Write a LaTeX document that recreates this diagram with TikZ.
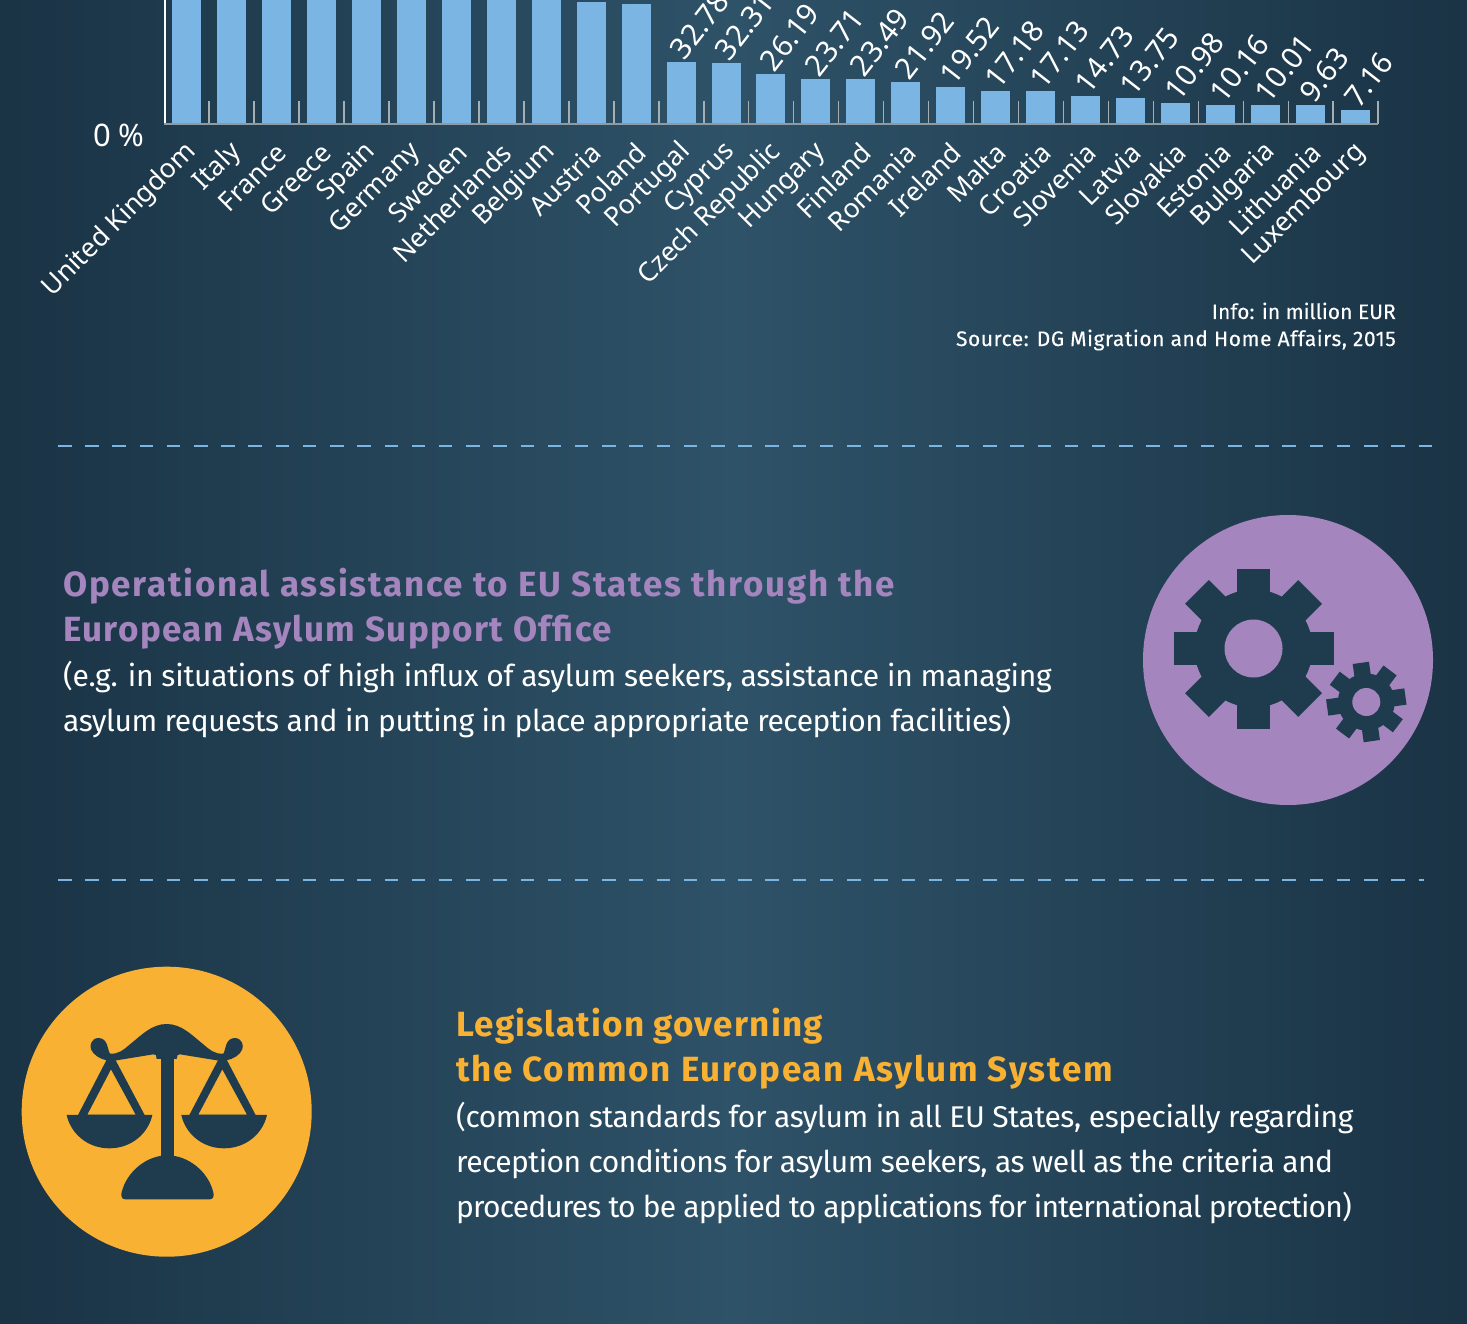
\documentclass[tikz,border=0pt]{standalone}
\usepackage{fontspec}
\setmainfont{Fira Sans}
\newfontfamily\chartfont{Noto Sans}
\newfontfamily\headA[LetterSpace=5.0]{Fira Sans}
\newfontfamily\headB[LetterSpace=4.04]{Fira Sans}
\newfontfamily\headC[LetterSpace=3.5]{Fira Sans}
\newfontfamily\infofont[FakeBold=0.25]{Fira Sans}
\newfontfamily\sourcefont[FakeBold=0.25,LetterSpace=2.5]{Fira Sans}
\newfontfamily\bodyA[LetterSpace=-0.8]{Fira Sans}
\newfontfamily\bodyB[LetterSpace=-1.5]{Fira Sans}
\newfontfamily\bodyC[LetterSpace=-1.35]{Fira Sans}
\newfontfamily\bodyD[LetterSpace=-1.8]{Fira Sans}
\newfontfamily\bodyE[LetterSpace=-2.7]{Fira Sans}
\definecolor{bgedge}{HTML}{1A3345}
\definecolor{bgmid}{HTML}{2E5268}
\definecolor{barblue}{HTML}{7AB5E3}
\definecolor{iconink}{HTML}{1F3C4F}
\definecolor{purpleC}{HTML}{A485BD}
\definecolor{yellowC}{HTML}{F8B133}
\definecolor{tickgrey}{HTML}{A3AEB5}
\definecolor{axisgrey}{HTML}{8E9BA3}
\tikzset{
  catlabel/.style={font=\chartfont\fontsize{26.6}{27}\selectfont,text=white,rotate=45,anchor=east,inner sep=0pt},
  vallabel/.style={font=\chartfont\fontsize{29.5}{29.5}\selectfont,text=white,rotate=52,anchor=west,inner sep=0pt},
  bar/.style={fill=barblue},
  sepline/.style={draw=barblue,line width=2pt,dash pattern=on 13.5pt off 13.71pt},
  headtext/.style={anchor=base west,inner sep=0pt},
  bodytext/.style={text=white,anchor=base west,inner sep=0pt},
  srctext/.style={text=white,anchor=base east,inner sep=0pt},
  ink/.style={fill=iconink}
}
\newcommand{\gearicon}[8]{% x,y,rot,root,outer,halfwidth,hole,colour of hole
  \begin{scope}[shift={(#1,#2)},rotate=#3]
    \fill[ink] (0,0) circle (#4);
    \foreach \a in {0,45,...,315}{
      \fill[ink,rotate=\a] (-#6,-#5) rectangle (#6,-#4+4);
    }
    \fill[#8] (0,0) circle (#7);
  \end{scope}
}
\begin{document}
\begin{tikzpicture}[x=1pt,y=-1pt]
\useasboundingbox (0,0) rectangle (1467,1324);
\clip (0,0) rectangle (1467,1324);
\shade[left color=bgedge,right color=bgedge,middle color=bgmid] (0,0) rectangle (1467,1324);

% chart
\foreach \i/\cname/\top in {0/United Kingdom/-5,1/Italy/-5,2/France/-5,3/Greece/-5,4/Spain/-5,5/Germany/-5,6/Sweden/-5,7/Netherlands/-5,8/Belgium/-5,9/Austria/2,10/Poland/4,11/Portugal/62,12/Cyprus/63,13/Czech Republic/74,14/Hungary/79,15/Finland/79,16/Romania/82,17/Ireland/87,18/Malta/91,19/Croatia/91,20/Slovenia/96,21/Latvia/98,22/Slovakia/103,23/Estonia/105,24/Bulgaria/105,25/Lithuania/105,26/Luxembourg/110}{
  \pgfmathsetmacro{\xl}{172+44.96*\i}
  \fill[bar] (\xl,\top) rectangle (\xl+29,124);
  \draw[tickgrey,line width=1.5pt] (\xl+37.2,101) -- (\xl+37.2,124);
  \node[catlabel] (cat\i) at (\xl+20,148) {\cname};
}
\draw[white,line width=2pt] (165,-2) -- (165,124);
\draw[axisgrey,line width=2pt] (164,124) -- (1378,124);
\node[font=\chartfont\fontsize{31}{31}\selectfont,text=white,inner sep=0pt] (zero) at (119,135) {0 \%};

\foreach \i/\val/\top in {11/32.78/62,12/32.31/63,13/26.19/74,14/23.71/79,15/23.49/79,16/21.92/82,17/19.52/87,18/17.18/91,19/17.13/91,20/14.73/96,21/13.75/98,22/10.98/103,23/10.16/105,24/10.01/105,25/9.63/105,26/7.16/110}{
  \pgfmathsetmacro{\xl}{172+44.96*\i}
  \node[vallabel] (val\i) at (\xl+10,\top-7) {\val};
}

% source
\node[srctext,font=\infofont\fontsize{21}{27}\selectfont] (info) at (1396,319) {Info: in million EUR};
\node[srctext,font=\sourcefont\fontsize{21}{27}\selectfont] (source) at (1396,346) {Source: DG Migration and Home Affairs, 2015};

% separators
\coordinate (s1a) at (58,446); \coordinate (s1b) at (1432,446);
\coordinate (s2a) at (58,880); \coordinate (s2b) at (1424,880);
\draw[sepline] (s1a) -- (s1b);
\draw[sepline] (s2a) -- (s2b);

% EASO
\node[headtext,text=purpleC,font=\headA\bfseries\fontsize{35}{45}\selectfont] (h1) at (63,596) {Operational assistance to EU States through the};
\node[headtext,text=purpleC,font=\headB\bfseries\fontsize{35}{45}\selectfont] (h2) at (63,641) {European Asylum Support Office};
\node[bodytext,font=\bodyA\fontsize{30}{45}\selectfont] (b1) at (63,686) {(e.g. in situations of high influx of asylum seekers, assistance in managing};
\node[bodytext,font=\bodyB\fontsize{30}{45}\selectfont] (b2) at (63,731) {asylum requests and in putting in place appropriate reception facilities)};
\fill[purpleC] (1288,660) circle (145);
\gearicon{1253.5}{648.5}{0}{59}{80}{16.8}{29}{purpleC}
\gearicon{1366.3}{702}{8}{28.5}{39.5}{8.2}{14}{purpleC}

% CEAS
\node[headtext,text=yellowC,font=\headC\bfseries\fontsize{35}{45}\selectfont] (h3) at (456,1036) {Legislation governing};
\node[headtext,text=yellowC,font=\headA\bfseries\fontsize{35}{45}\selectfont] (h4) at (456,1081) {the Common European Asylum System};
\node[bodytext,font=\bodyC\fontsize{30}{45}\selectfont] (b3) at (456,1127) {(common standards for asylum in all EU States, especially regarding};
\node[bodytext,font=\bodyD\fontsize{30}{45}\selectfont] (b4) at (456,1172) {reception conditions for asylum seekers, as well as the criteria and};
\node[bodytext,font=\bodyE\fontsize{30}{45}\selectfont] (b5) at (456,1217) {procedures to be applied to applications for international protection)};
\fill[yellowC] (166.7,1111.7) circle (145);
\begin{scope}[shift={(10,955)},x=0.3333pt,y=-0.3333pt]
  % beam
  \fill[ink] (470,207) .. controls (425,207) and (395,240) .. (360,268)
    .. controls (340,285) and (325,298) .. (300,296)
    .. controls (292,285) and (295,250) .. (266,249)
    .. controls (245,249) and (238,270) .. (243,283)
    .. controls (250,300) and (270,312) .. (290,316)
    -- (320,316) -- (430,298) -- (438,300) -- (440,312) -- (500,312) -- (503,300) -- (510,298)
    -- (620,316) -- (650,316)
    .. controls (670,312) and (690,300) .. (697,283)
    .. controls (702,270) and (695,249) .. (674,249)
    .. controls (645,250) and (648,285) .. (640,296)
    .. controls (615,298) and (600,285) .. (580,268)
    .. controls (545,240) and (515,207) .. (470,207) -- cycle;
  % post and base
  \fill[ink] (454,305) rectangle (491,620);
  \fill[ink] (345,733) .. controls (335,733) and (332,722) .. (335,712)
    .. controls (350,650) and (410,601) .. (472,601)
    .. controls (535,601) and (595,650) .. (610,712)
    .. controls (613,722) and (610,733) .. (600,733) -- cycle;
  % pans
  \fill[ink] (170,480) -- (427,480) .. controls (415,535) and (365,580) .. (298,580) .. controls (232,580) and (182,535) .. (170,480) -- cycle;
  \fill[ink] (514,480) -- (771,480) .. controls (759,535) and (709,580) .. (642,580) .. controls (576,580) and (526,535) .. (514,480) -- cycle;
  % strings
  \fill[ink,even odd rule] (203,482) -- (290,314) -- (316,314) -- (405,482) -- cycle (232,479) -- (303,343) -- (377,479) -- cycle;
  \fill[ink,even odd rule] (537,482) -- (625,314) -- (650,314) -- (738,482) -- cycle (565,479) -- (637,343) -- (711,479) -- cycle;
\end{scope}
\end{tikzpicture}
\end{document}
